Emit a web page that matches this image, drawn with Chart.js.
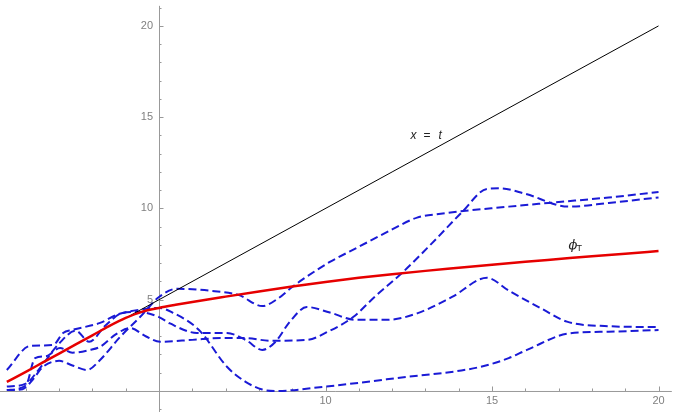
<!DOCTYPE html>
<html>
<head>
<meta charset="utf-8">
<script src="https://cdn.jsdelivr.net/npm/chart.js@4/dist/chart.umd.min.js"></script>
<style>
  body { margin: 0; background: #fff; }
  #wrap { width: 680px; height: 418px; }
</style>
</head>
<body>
<div id="wrap"><canvas id="chart"></canvas></div>
<script>
// phi_T (red)
const redX = [0.43, 1, 1.5, 2, 2.5, 3, 3.5, 4, 4.5, 5, 5.5, 6, 7, 8, 9, 10, 11, 12, 13, 14, 15, 16, 17, 18, 19, 20];
const redY = [0.5, 1.05, 1.55, 2.05, 2.55, 3.05, 3.55, 4.0, 4.35, 4.55, 4.72, 4.88, 5.17, 5.45, 5.72, 5.97, 6.2, 6.4, 6.58, 6.75, 6.92, 7.08, 7.23, 7.38, 7.52, 7.67];

// x = t (black)
const diagX = [4, 20];
const diagY = [4, 20];

// blue dashed sample paths
const pathAx = [0.43, 0.9, 1.2, 1.5, 2.0, 2.4, 2.84, 3.23, 3.83, 4.43, 5.0, 5.54, 6.5, 7.4, 8.1, 8.6, 9.0, 9.74, 10.13, 11.0, 12.0, 12.75, 13.4, 15.5, 17.0, 18.5, 20];
const pathAy = [0.05, 0.1, 0.6, 1.3, 1.65, 1.4, 1.15, 1.7, 2.96, 4.05, 5.15, 5.6, 5.5, 5.25, 4.65, 5.1, 5.7, 6.63, 7.07, 7.9, 8.85, 9.5, 9.7, 10.1, 10.35, 10.6, 10.9];

const pathBx = [0.43, 1.0, 1.28, 1.6, 2.03, 2.4, 2.93, 3.23, 3.7, 4.13, 4.6, 5.03, 6.0, 6.9, 7.5, 8.4, 9.44, 10.13, 10.83, 11.5, 12.3, 13.2, 14.1, 14.85, 15.24, 16.0, 17.3, 18.5, 20];
const pathBy = [0.05, 0.3, 1.8, 1.9, 2.35, 2.1, 2.25, 2.42, 3.1, 3.45, 3.0, 2.7, 2.8, 2.9, 2.9, 2.75, 2.8, 3.3, 4.05, 5.2, 6.47, 8.1, 9.8, 11.07, 11.1, 10.8, 10.1, 10.3, 10.6];

const pathCx = [0.43, 1.0, 1.4, 2.0, 2.5, 2.9, 3.4, 3.9, 4.4, 5.0, 5.33, 6.14, 7.04, 7.6, 8.1, 8.5, 8.93, 9.44, 10.13, 10.9, 11.85, 12.75, 13.8, 14.85, 15.5, 16.5, 17.25, 18.5, 20];
const pathCy = [0.24, 0.4, 1.2, 2.6, 3.3, 2.7, 3.6, 4.27, 4.33, 4.05, 3.7, 3.18, 3.17, 2.8, 2.25, 2.7, 3.8, 4.6, 4.3, 3.9, 3.9, 4.25, 5.15, 6.2, 5.5, 4.5, 3.8, 3.55, 3.5];

const pathDx = [0.43, 1.13, 1.82, 2.12, 2.39, 3.23, 3.77, 4.4, 5.0, 5.4, 6.2, 7.04, 7.6, 8.1, 8.5, 10, 12.1, 14.6, 15.5, 16.05, 17.3, 18.5, 20];
const pathDy = [1.15, 2.47, 2.52, 3.18, 3.34, 3.73, 4.2, 4.45, 4.55, 4.3, 3.34, 1.33, 0.5, 0.08, 0.0, 0.24, 0.7, 1.3, 1.8, 2.25, 3.15, 3.25, 3.34];

// axis ticks
const xMajor = [5, 10, 15, 20];
const xLabels = [10, 15, 20];
const yMajor = [5, 10, 15, 20];
const yLabels = [5, 10, 15, 20];

const pts = (xs, ys) => xs.map((x, i) => ({ x: x, y: ys[i] }));

const blueStyle = {
  borderColor: "#1a1ad6",
  borderWidth: 2,
  borderDash: [8, 4],
  pointRadius: 0,
  cubicInterpolationMode: "monotone",
  fill: false,
};

// Mathematica style axes crossing at (5, 0), ticks pointing inward
const axesPlugin = {
  id: "axes",
  beforeDatasetsDraw(chart) {
    const { ctx, scales: { x, y } } = chart;
    const x0 = x.getPixelForValue(5);
    const y0 = y.getPixelForValue(0);
    ctx.save();
    ctx.strokeStyle = "#999";
    ctx.lineWidth = 1;
    ctx.beginPath();
    ctx.moveTo(x.getPixelForValue(0.22), y0 + 0.5);
    ctx.lineTo(x.getPixelForValue(20.4), y0 + 0.5);
    ctx.moveTo(x0 + 0.5, y.getPixelForValue(-1.15));
    ctx.lineTo(x0 + 0.5, y.getPixelForValue(21.1));
    for (let t = 1; t <= 20; t++) {
      const px = Math.round(x.getPixelForValue(t)) + 0.5;
      const len = xMajor.includes(t) ? 4.5 : 2.5;
      ctx.moveTo(px, y0);
      ctx.lineTo(px, y0 - len);
    }
    for (let t = -1; t <= 21; t++) {
      if (t === 0) continue;
      const py = Math.round(y.getPixelForValue(t)) + 0.5;
      const len = yMajor.includes(t) ? 4.5 : 2.5;
      ctx.moveTo(x0, py);
      ctx.lineTo(x0 + len, py);
    }
    ctx.stroke();

    ctx.fillStyle = "#808080";
    ctx.font = "11px 'Liberation Sans', Arial, sans-serif";
    ctx.textAlign = "center";
    ctx.textBaseline = "middle";
    xLabels.forEach((v) => ctx.fillText(String(v), x.getPixelForValue(v), y0 + 10));
    ctx.textAlign = "right";
    yLabels.forEach((v) => ctx.fillText(String(v), x0 - 6, y.getPixelForValue(v)));
    ctx.restore();
  },
  afterDatasetsDraw(chart) {
    const { ctx, scales: { x, y } } = chart;
    ctx.save();
    ctx.fillStyle = "#222";
    ctx.textBaseline = "middle";
    ctx.textAlign = "left";
    // x = t label
    let px = x.getPixelForValue(12.55);
    const py = y.getPixelForValue(13.97);
    ctx.font = "italic 12px 'Liberation Sans', Arial, sans-serif";
    ctx.fillText("x", px, py);
    ctx.font = "12px 'Liberation Sans', Arial, sans-serif";
    ctx.fillText("=", px + 13, py);
    ctx.font = "italic 12px 'Liberation Sans', Arial, sans-serif";
    ctx.fillText("t", px + 28, py);
    // phi_T label
    const qx = x.getPixelForValue(17.3);
    const qy = y.getPixelForValue(7.95);
    ctx.font = "italic 13px 'DejaVu Serif', serif";
    ctx.fillText("\u03d5", qx, qy);
    ctx.font = "9px 'Liberation Sans', Arial, sans-serif";
    ctx.fillText("T", qx + 8, qy + 3);
    ctx.restore();
  },
};

new Chart(document.getElementById("chart").getContext("2d"), {
  type: "line",
  data: {
    datasets: [
      { data: pts(redX, redY), borderColor: "#e60000", borderWidth: 2.5, pointRadius: 0, cubicInterpolationMode: "monotone", fill: false },
      { data: pts(diagX, diagY), borderColor: "#000", borderWidth: 1, pointRadius: 0, fill: false },
      { data: pts(pathAx, pathAy), ...blueStyle },
      { data: pts(pathBx, pathBy), ...blueStyle },
      { data: pts(pathCx, pathCy), ...blueStyle },
      { data: pts(pathDx, pathDy), ...blueStyle },
    ],
  },
  options: {
    responsive: true,
    maintainAspectRatio: false,
    animation: false,
    layout: { padding: 0 },
    plugins: { legend: { display: false }, tooltip: { enabled: false } },
    scales: {
      x: { type: "linear", min: 0.225, max: 20.645, display: false },
      y: { type: "linear", min: -1.48, max: 21.42, display: false },
    },
  },
  plugins: [axesPlugin],
});
</script>
</body>
</html>
